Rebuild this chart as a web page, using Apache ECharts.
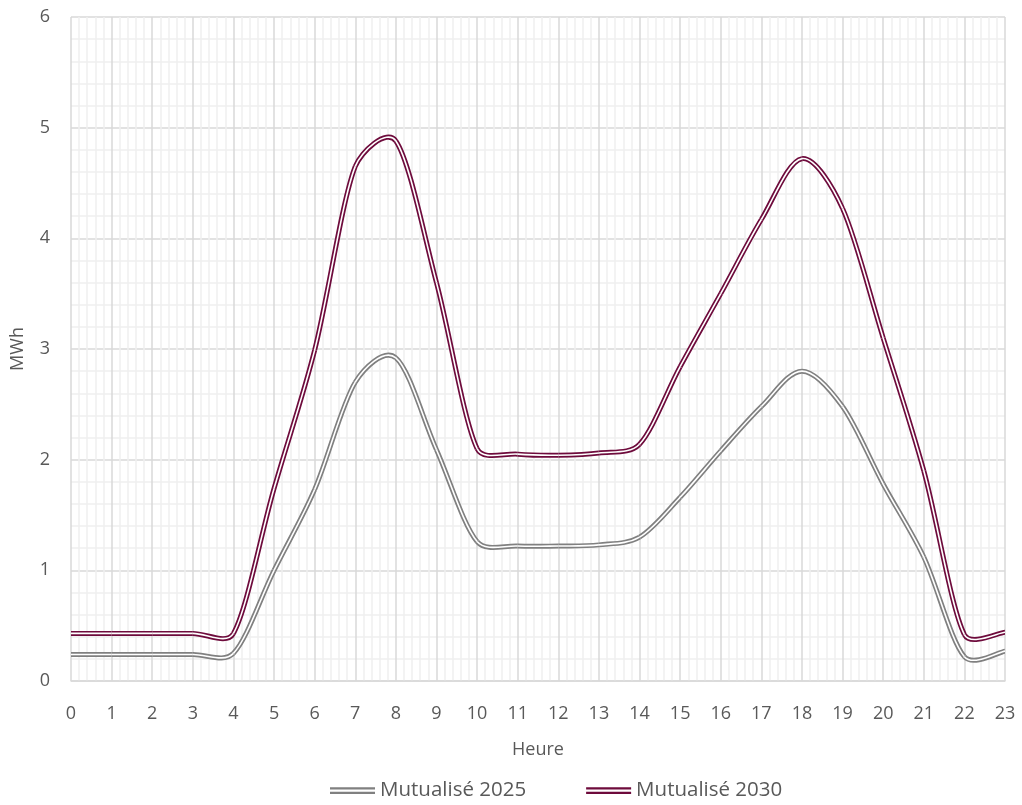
<!DOCTYPE html>
<html>
<head>
<meta charset="utf-8">
<script src="https://cdn.jsdelivr.net/npm/echarts@6/dist/echarts.min.js"></script>
<style>
  html, body { margin: 0; padding: 0; background: #fff; }
  #chart { width: 1022px; height: 805px; }
</style>
</head>
<body>
<div id="chart"></div>
<script>
// heures de la journée
var hours = [0, 1, 2, 3, 4, 5, 6, 7, 8, 9, 10, 11, 12, 13, 14, 15, 16, 17, 18, 19, 20, 21, 22, 23]
// consommation (MWh)
var mut2025 = [0.24, 0.24, 0.24, 0.24, 0.25, 1.0, 1.73, 2.7, 2.92, 2.09, 1.26, 1.22, 1.22, 1.23, 1.3, 1.66, 2.08, 2.48, 2.8, 2.48, 1.78, 1.12, 0.22, 0.27]
var mut2030 = [0.43, 0.43, 0.43, 0.43, 0.43, 1.74, 2.99, 4.65, 4.88, 3.6, 2.1, 2.05, 2.04, 2.06, 2.14, 2.84, 3.5, 4.17, 4.72, 4.27, 3.1, 1.9, 0.42, 0.44]
var yTicks = [0, 1, 2, 3, 4, 5, 6]

var fontFamily = '"Open Sans", "Noto Sans", sans-serif'
var doubleIcon = 'path://M0,0 H40 V2 H0 Z M0,4 H40 V6 H0 Z'

function pairs (values) {
  var out = []
  for (var i = 0; i < hours.length; i++) {
    out.push([hours[i], values[i]])
  }
  return out
}

// lissage façon Excel : tangente = (suivant - précédent) * 1/6,
// réduite quand le segment voisin est court
function tangent (pts, i) {
  var p = pts[i]
  var prev = pts[Math.max(i - 1, 0)]
  var next = pts[Math.min(i + 1, pts.length - 1)]
  var vx = next[0] - prev[0]
  var vy = next[1] - prev[1]
  var d02 = Math.hypot(vx, vy) || 1
  var lp = Math.hypot(p[0] - prev[0], p[1] - prev[1])
  var ln = Math.hypot(next[0] - p[0], next[1] - p[1])
  var fb = Math.min(1 / 6, lp / (3 * d02))
  var ff = Math.min(1 / 6, ln / (3 * d02))
  return {
    back: [p[0] - vx * fb, p[1] - vy * fb],
    fwd: [p[0] + vx * ff, p[1] + vy * ff]
  }
}

function makeRender (values, color) {
  return function (params, api) {
    var i = params.dataIndex
    if (i >= hours.length - 1) return null
    var pts = hours.map(function (h, k) { return api.coord([h, values[k]]) })
    var t0 = tangent(pts, i)
    var t1 = tangent(pts, i + 1)
    var shape = {
      x1: pts[i][0], y1: pts[i][1],
      cpx1: t0.fwd[0], cpy1: t0.fwd[1],
      cpx2: t1.back[0], cpy2: t1.back[1],
      x2: pts[i + 1][0], y2: pts[i + 1][1]
    }
    return {
      type: 'group',
      children: [
        { type: 'bezierCurve', shape: shape, z2: 1, style: { stroke: color, lineWidth: 5, fill: null } },
        { type: 'bezierCurve', shape: shape, z2: 2, style: { stroke: '#ffffff', lineWidth: 1.6, fill: null } }
      ]
    }
  }
}

function doubleLine (name, values, color) {
  return {
    name: name,
    type: 'custom',
    data: pairs(values),
    encode: { x: 0, y: 1 },
    itemStyle: { color: color },
    clip: true,
    renderItem: makeRender(values, color)
  }
}

var myChart = echarts.init(document.getElementById('chart'))
myChart.setOption({
  animation: false,
  grid: { left: 71, right: 17, top: 17, bottom: 124, outerBoundsMode: 'none', containLabel: false },
  legend: {
    data: [
      { name: 'Mutualisé 2025', icon: doubleIcon },
      { name: 'Mutualisé 2030', icon: doubleIcon }
    ],
    bottom: -1,
    left: 325,
    itemWidth: 45,
    itemHeight: 7,
    itemGap: 60,
    textStyle: { fontFamily: fontFamily, fontSize: 20.5, color: '#595959' }
  },
  xAxis: {
    type: 'value',
    min: 0,
    max: 23,
    interval: 1,
    name: 'Heure',
    nameLocation: 'middle',
    nameGap: 60,
    nameTextStyle: { fontFamily: fontFamily, fontSize: 18, color: '#595959' },
    axisLine: { show: true, lineStyle: { color: '#d9d9d9', width: 1.5 } },
    axisTick: { show: false },
    axisLabel: { fontFamily: fontFamily, fontSize: 18, color: '#595959', margin: 24 },
    splitLine: { show: true, lineStyle: { color: '#d9d9d9', width: 1.5 } },
    minorTick: { show: false, splitNumber: 5 },
    minorSplitLine: { show: true, lineStyle: { color: '#efefef', width: 1.5 } }
  },
  yAxis: {
    type: 'value',
    min: yTicks[0],
    max: yTicks[yTicks.length - 1],
    interval: 1,
    name: 'MWh',
    nameLocation: 'middle',
    nameGap: 44,
    nameTextStyle: { fontFamily: fontFamily, fontSize: 18, color: '#595959' },
    axisLine: { show: false },
    axisTick: { show: false },
    axisLabel: { fontFamily: fontFamily, fontSize: 18, color: '#595959', margin: 21 },
    splitLine: { show: true, lineStyle: { color: '#d9d9d9', width: 1.5 } },
    minorTick: { show: false, splitNumber: 5 },
    minorSplitLine: { show: true, lineStyle: { color: '#efefef', width: 1.5 } }
  },
  series: [
    doubleLine('Mutualisé 2025', mut2025, '#808080'),
    doubleLine('Mutualisé 2030', mut2030, '#6e0b3c')
  ]
})
</script>
</body>
</html>
